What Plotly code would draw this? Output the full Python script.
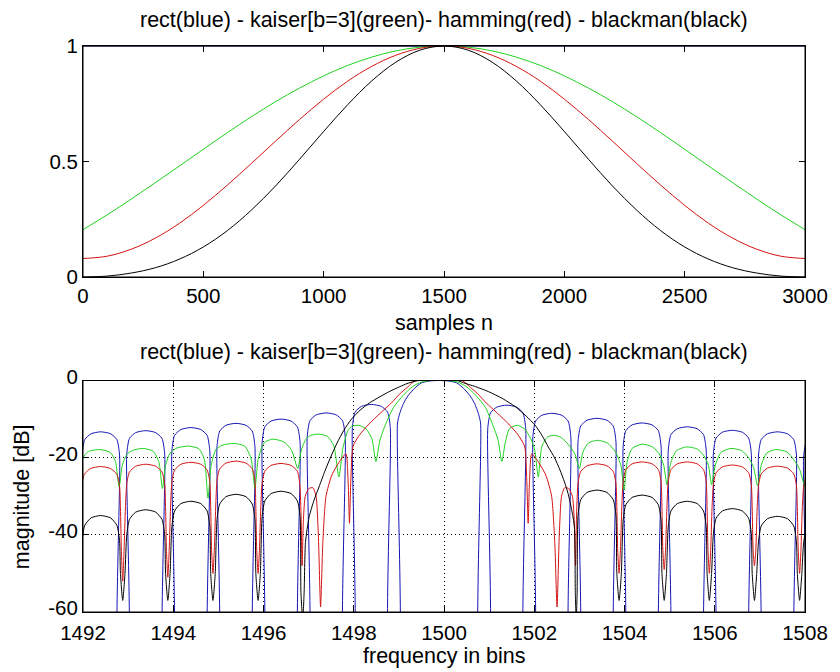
import plotly.graph_objects as go

FONT = "Liberation Sans, Arial, Helvetica, sans-serif"
TITLE = "rect(blue) - kaiser[b=3](green)- hamming(red) - blackman(black)"

# ---------------- top panel: window shapes ----------------
samples_n = [0, 100, 200, 300, 400, 500, 600, 700, 800, 900, 1000, 1100, 1200, 1300, 1400, 1500,
             1600, 1700, 1800, 1900, 2000, 2100, 2200, 2300, 2400, 2500, 2600, 2700, 2800, 2900, 3000]
rect_n = [0, 3000]
rect_w = [1.0, 1.0]
kaiser_w = [0.205, 0.269, 0.337, 0.408, 0.480, 0.553, 0.625, 0.694, 0.759, 0.818, 0.871, 0.916, 0.952, 0.979, 0.995, 1.0,
            0.995, 0.979, 0.952, 0.916, 0.871, 0.818, 0.759, 0.694, 0.625, 0.553, 0.480, 0.408, 0.337, 0.269, 0.205]
hamming_w = [0.080, 0.090, 0.120, 0.168, 0.232, 0.310, 0.398, 0.492, 0.588, 0.682, 0.770, 0.848, 0.912, 0.960, 0.990, 1.0,
             0.990, 0.960, 0.912, 0.848, 0.770, 0.682, 0.588, 0.492, 0.398, 0.310, 0.232, 0.168, 0.120, 0.090, 0.080]
blackman_w = [0.000, 0.004, 0.017, 0.040, 0.077, 0.130, 0.201, 0.290, 0.394, 0.510, 0.630, 0.746, 0.849, 0.930, 0.982, 1.0,
              0.982, 0.930, 0.849, 0.746, 0.630, 0.510, 0.394, 0.290, 0.201, 0.130, 0.077, 0.040, 0.017, 0.004, 0.000]

# ---------------- bottom panel: spectra in dB (bin, dB) ----------------
rect_db = [
    (1491.98, -80), (1491.98, -19.3), (1492.04, -15.3), (1492.18, -13.8), (1492.39, -13.3), (1492.61, -13.8), (1492.75, -15.3), (1492.81, -19.3), (1492.81, -80),
    (1492.97, -80), (1492.97, -19.0), (1493.03, -15.0), (1493.17, -13.5), (1493.39, -13.0), (1493.61, -13.5), (1493.75, -15.0), (1493.81, -19.0), (1493.81, -80),
    (1493.97, -80), (1493.97, -18.2), (1494.03, -14.2), (1494.17, -12.7), (1494.39, -12.2), (1494.61, -12.7), (1494.75, -14.2), (1494.81, -18.2), (1494.81, -80),
    (1494.97, -80), (1494.97, -17.1), (1495.03, -13.1), (1495.17, -11.6), (1495.39, -11.1), (1495.61, -11.6), (1495.75, -13.1), (1495.81, -17.1), (1495.81, -80),
    (1495.97, -80), (1495.97, -16.0), (1496.03, -12.0), (1496.17, -10.5), (1496.39, -10.0), (1496.61, -10.5), (1496.75, -12.0), (1496.81, -16.0), (1496.81, -80),
    (1496.97, -80), (1496.97, -14.4), (1497.03, -10.4), (1497.17, -8.9), (1497.39, -8.4), (1497.61, -8.9), (1497.75, -10.4), (1497.81, -14.4), (1497.81, -80),
    (1497.97, -80), (1497.97, -12.2), (1498.03, -8.2), (1498.17, -6.7), (1498.39, -6.2), (1498.61, -6.7), (1498.75, -8.2), (1498.81, -12.2), (1498.81, -80),
    (1498.97, -80), (1498.97, -11.0), (1499.02, -8.5), (1499.10, -6.0), (1499.20, -4.0), (1499.35, -2.0), (1499.50, -0.6), (1499.70, -0.1), (1499.89, 0.0),
    (1500.08, -0.1), (1500.28, -0.6), (1500.43, -2.0), (1500.58, -4.0), (1500.68, -6.0), (1500.76, -8.5), (1500.81, -11.0), (1500.81, -80),
    (1500.97, -80), (1500.97, -12.4), (1501.03, -8.4), (1501.17, -6.9), (1501.39, -6.4), (1501.61, -6.9), (1501.75, -8.4), (1501.81, -12.4), (1501.81, -80),
    (1501.97, -80), (1501.97, -14.5), (1502.03, -10.5), (1502.17, -9.0), (1502.39, -8.5), (1502.61, -9.0), (1502.75, -10.5), (1502.81, -14.5), (1502.81, -80),
    (1502.97, -80), (1502.97, -15.8), (1503.03, -11.8), (1503.17, -10.3), (1503.39, -9.8), (1503.61, -10.3), (1503.75, -11.8), (1503.81, -15.8), (1503.81, -80),
    (1503.97, -80), (1503.97, -17.0), (1504.03, -13.0), (1504.17, -11.5), (1504.39, -11.0), (1504.61, -11.5), (1504.75, -13.0), (1504.81, -17.0), (1504.81, -80),
    (1504.97, -80), (1504.97, -18.0), (1505.03, -14.0), (1505.17, -12.5), (1505.39, -12.0), (1505.61, -12.5), (1505.75, -14.0), (1505.81, -18.0), (1505.81, -80),
    (1505.97, -80), (1505.97, -18.9), (1506.03, -14.9), (1506.17, -13.4), (1506.39, -12.9), (1506.61, -13.4), (1506.75, -14.9), (1506.81, -18.9), (1506.81, -80),
    (1506.97, -80), (1506.97, -19.3), (1507.03, -15.3), (1507.17, -13.8), (1507.39, -13.3), (1507.61, -13.8), (1507.75, -15.3), (1507.81, -19.3), (1507.81, -80),
    (1507.97, -80), (1507.97, -19.5), (1508.03, -15.5),
]

kaiser_db = [
    (1491.85, -26), (1492.00, -20), (1492.12, -18.4), (1492.37, -17.9), (1492.60, -18.6), (1492.72, -21), (1492.80, -27.6),
    (1492.87, -22), (1492.97, -19.2), (1493.10, -18.1), (1493.32, -17.6), (1493.55, -18.3), (1493.68, -21), (1493.76, -28),
    (1493.83, -22), (1493.93, -18.8), (1494.08, -17.5), (1494.34, -17.0), (1494.57, -17.7), (1494.69, -20.5), (1494.77, -30.5),
    (1494.84, -22), (1494.94, -18), (1495.08, -16.8), (1495.35, -16.3), (1495.58, -17.0), (1495.72, -20), (1495.81, -28),
    (1495.88, -20.5), (1495.98, -16.8), (1496.05, -15.8), (1496.21, -15.2), (1496.45, -15.9), (1496.62, -18), (1496.76, -22.8),
    (1496.84, -18), (1496.95, -15), (1497.05, -14.2), (1497.23, -13.9), (1497.42, -14.5), (1497.56, -17), (1497.67, -25),
    (1497.76, -17.5), (1497.87, -13), (1497.95, -11.9), (1498.11, -11.6), (1498.27, -12.5), (1498.40, -15), (1498.49, -21),
    (1498.58, -15.5), (1498.70, -11.5), (1498.88, -7), (1499.10, -3.8), (1499.30, -1.6), (1499.50, -0.4), (1499.70, 0),
    (1500.10, 0), (1500.30, -0.4), (1500.50, -1.6), (1500.70, -3.8), (1500.92, -7), (1501.08, -11.5), (1501.20, -15.5), (1501.28, -21),
    (1501.36, -16), (1501.45, -12.5), (1501.62, -11.6), (1501.78, -12.5), (1501.92, -15), (1502.01, -18), (1502.09, -25),
    (1502.17, -17), (1502.30, -14.6), (1502.45, -14.2), (1502.60, -14.8), (1502.75, -16.5), (1502.90, -19), (1503.00, -22.8),
    (1503.08, -18.5), (1503.20, -16.2), (1503.40, -15.5), (1503.62, -16.2), (1503.80, -18.5), (1503.92, -22), (1503.99, -28.4),
    (1504.06, -21), (1504.17, -17.6), (1504.39, -16.5), (1504.62, -17.2), (1504.77, -19), (1504.87, -22), (1504.94, -27),
    (1505.02, -21.5), (1505.15, -18.2), (1505.38, -17.2), (1505.62, -17.8), (1505.76, -19.5), (1505.86, -22), (1505.93, -27),
    (1506.01, -22), (1506.14, -18.6), (1506.36, -17.6), (1506.60, -18.2), (1506.75, -20), (1506.86, -22.5), (1506.95, -27.3),
    (1507.03, -22), (1507.15, -18.8), (1507.35, -17.9), (1507.60, -18.5), (1507.75, -20.5), (1507.88, -23), (1508.00, -27.6), (1508.05, -22),
]

hamming_db = [
    (1491.97, -27.3), (1492.03, -24.3), (1492.17, -22.8), (1492.39, -22.3), (1492.61, -22.8), (1492.75, -24.3), (1492.81, -27.3),
    (1492.83, -33), (1492.85, -44), (1492.88, -52), (1492.91, -44), (1492.94, -33),
    (1492.97, -26.7), (1493.03, -23.7), (1493.17, -22.2), (1493.39, -21.7), (1493.61, -22.2), (1493.75, -23.7), (1493.81, -26.7),
    (1493.83, -33), (1493.85, -44), (1493.88, -51), (1493.91, -44), (1493.94, -33),
    (1493.97, -26.2), (1494.03, -23.2), (1494.17, -21.7), (1494.39, -21.2), (1494.61, -21.7), (1494.75, -23.2), (1494.81, -26.2),
    (1494.83, -33), (1494.85, -44), (1494.88, -50), (1494.91, -44), (1494.94, -33),
    (1494.97, -25.9), (1495.03, -22.9), (1495.17, -21.4), (1495.39, -20.9), (1495.61, -21.4), (1495.75, -22.9), (1495.81, -25.9),
    (1495.83, -33), (1495.85, -44), (1495.88, -50), (1495.91, -44), (1495.94, -33),
    (1495.97, -26.5), (1496.03, -23.5), (1496.17, -22.0), (1496.39, -21.5), (1496.61, -22.0), (1496.75, -23.5), (1496.805, -27),
    (1496.835, -36), (1496.855, -48), (1496.885, -36), (1496.925, -30), (1497.005, -28), (1497.095, -27.8), (1497.165, -30),
    (1497.215, -40), (1497.265, -58.7), (1497.315, -42), (1497.385, -30), (1497.515, -24.5), (1497.685, -21), (1497.825, -19),
    (1497.875, -26), (1497.905, -37), (1497.935, -26), (1497.985, -17), (1498.135, -14), (1498.335, -11.3), (1498.585, -8.5),
    (1498.835, -5.8), (1499.035, -3.3), (1499.185, -1.8), (1499.285, -0.7), (1499.385, 0),
    (1500.385, 0), (1500.485, -0.7), (1500.585, -1.8), (1500.735, -3.3), (1500.935, -5.8), (1501.185, -8.5), (1501.435, -11.3),
    (1501.635, -14), (1501.785, -17), (1501.835, -26), (1501.865, -37), (1501.895, -26), (1501.945, -19), (1502.085, -21),
    (1502.255, -24.5), (1502.385, -30), (1502.455, -42), (1502.505, -58.7), (1502.555, -40), (1502.605, -30), (1502.675, -27.8),
    (1502.765, -28), (1502.845, -30), (1502.885, -36), (1502.915, -48), (1502.935, -36),
    (1502.97, -26.6), (1503.03, -23.6), (1503.17, -22.1), (1503.39, -21.6), (1503.61, -22.1), (1503.75, -23.6), (1503.81, -26.6),
    (1503.83, -33), (1503.85, -44), (1503.88, -50), (1503.91, -44), (1503.94, -33),
    (1503.97, -26.1), (1504.03, -23.1), (1504.17, -21.6), (1504.39, -21.1), (1504.61, -21.6), (1504.75, -23.1), (1504.81, -26.1),
    (1504.83, -33), (1504.85, -44), (1504.88, -49), (1504.91, -44), (1504.94, -33),
    (1504.97, -26.1), (1505.03, -23.1), (1505.17, -21.6), (1505.39, -21.1), (1505.61, -21.6), (1505.75, -23.1), (1505.81, -26.1),
    (1505.83, -33), (1505.85, -44), (1505.88, -50), (1505.91, -44), (1505.94, -33),
    (1505.97, -26.9), (1506.03, -23.9), (1506.17, -22.4), (1506.39, -21.9), (1506.61, -22.4), (1506.75, -23.9), (1506.81, -26.9),
    (1506.83, -33), (1506.85, -44), (1506.88, -48), (1506.91, -44), (1506.94, -33),
    (1506.97, -27.2), (1507.03, -24.2), (1507.17, -22.7), (1507.39, -22.2), (1507.61, -22.7), (1507.75, -24.2), (1507.81, -27.2),
    (1507.83, -33), (1507.85, -44), (1507.88, -50), (1507.91, -44), (1507.94, -33), (1507.97, -27.5), (1508.03, -24.5),
]

blackman_db = [
    (1491.98, -41.5), (1492.04, -37.5), (1492.18, -35.6), (1492.39, -35.0), (1492.61, -35.6), (1492.75, -37.5), (1492.81, -41.5),
    (1492.83, -50), (1492.88, -57), (1492.93, -50),
    (1492.97, -40.0), (1493.03, -36.0), (1493.17, -34.1), (1493.39, -33.5), (1493.61, -34.1), (1493.75, -36.0), (1493.81, -40.0),
    (1493.83, -50), (1493.88, -57), (1493.93, -50),
    (1493.97, -37.8), (1494.03, -33.8), (1494.17, -31.9), (1494.39, -31.3), (1494.61, -31.9), (1494.75, -33.8), (1494.81, -37.8),
    (1494.83, -50), (1494.88, -57), (1494.93, -50),
    (1494.97, -36.0), (1495.03, -32.0), (1495.17, -30.1), (1495.39, -29.5), (1495.61, -30.1), (1495.75, -32.0), (1495.81, -36.0),
    (1495.83, -50), (1495.88, -57), (1495.93, -50),
    (1495.97, -35.2), (1496.03, -31.2), (1496.17, -29.3), (1496.39, -28.7), (1496.61, -29.3), (1496.75, -31.2), (1496.81, -35.2),
    (1496.83, -55), (1496.87, -62), (1496.90, -55),
    (1496.93, -42), (1497.01, -35.4), (1497.12, -31), (1497.23, -27.6), (1497.36, -23.5), (1497.49, -19.8), (1497.63, -16.2),
    (1497.78, -12.9), (1497.95, -10), (1498.14, -7.7), (1498.35, -5.8), (1498.58, -4.2), (1498.80, -2.8), (1499.02, -1.6),
    (1499.18, -0.8), (1499.35, -0.2), (1499.45, 0), (1500.30, 0), (1500.41, -0.5), (1500.70, -1.6), (1500.99, -2.9),
    (1501.30, -4.7), (1501.58, -6.8), (1501.82, -9.2), (1502.02, -11.6), (1502.17, -14.2), (1502.31, -17.2), (1502.45, -20),
    (1502.57, -23.2), (1502.67, -26.3), (1502.75, -29.3), (1502.83, -33.5), (1502.89, -38),
    (1502.91, -55), (1502.93, -62), (1502.95, -55),
    (1502.97, -34.9), (1503.03, -30.9), (1503.17, -29.0), (1503.39, -28.4), (1503.61, -29.0), (1503.75, -30.9), (1503.81, -34.9),
    (1503.83, -50), (1503.88, -57), (1503.93, -50),
    (1503.97, -36.2), (1504.03, -32.2), (1504.17, -30.3), (1504.39, -29.7), (1504.61, -30.3), (1504.75, -32.2), (1504.81, -36.2),
    (1504.83, -50), (1504.88, -57), (1504.93, -50),
    (1504.97, -37.8), (1505.03, -33.8), (1505.17, -31.9), (1505.39, -31.3), (1505.61, -31.9), (1505.75, -33.8), (1505.81, -37.8),
    (1505.83, -50), (1505.88, -57), (1505.93, -50),
    (1505.97, -39.7), (1506.03, -35.7), (1506.17, -33.8), (1506.39, -33.2), (1506.61, -33.8), (1506.75, -35.7), (1506.81, -39.7),
    (1506.83, -50), (1506.88, -57), (1506.93, -50),
    (1506.97, -41.7), (1507.03, -37.7), (1507.17, -35.8), (1507.39, -35.2), (1507.61, -35.8), (1507.75, -37.7), (1507.81, -41.7),
    (1507.83, -50), (1507.88, -57), (1507.93, -50), (1507.97, -42), (1508.03, -38),
]

top_xticks = [0, 500, 1000, 1500, 2000, 2500, 3000]
top_yticks = [0, 0.5, 1]
top_yticktext = ["0", "0.5", "1"]
bot_xticks = [1492, 1494, 1496, 1498, 1500, 1502, 1504, 1506, 1508]
bot_yticks = [-60, -40, -20, 0]
bot_yticktext = ["-60", "-40", "-20", "0"]

COL_BLUE = "#1515b5"
COL_GREEN = "#1fd21f"
COL_RED = "#d41414"
COL_BLACK = "#000000"

fig = go.Figure()

# top panel
for xs, ys, col in [(rect_n, rect_w, COL_BLUE), (samples_n, kaiser_w, COL_GREEN),
                    (samples_n, hamming_w, COL_RED), (samples_n, blackman_w, COL_BLACK)]:
    fig.add_trace(go.Scatter(x=xs, y=ys, mode="lines", line=dict(color=col, width=1, shape="spline"),
                             xaxis="x", yaxis="y", showlegend=False, hoverinfo="skip"))

# bottom panel
for pts, col in [(rect_db, COL_BLUE), (kaiser_db, COL_GREEN), (hamming_db, COL_RED), (blackman_db, COL_BLACK)]:
    fig.add_trace(go.Scatter(x=[p[0] for p in pts], y=[p[1] for p in pts], mode="lines",
                             line=dict(color=col, width=1, shape="spline", smoothing=0.6),
                             xaxis="x2", yaxis="y2", showlegend=False, hoverinfo="skip"))

tickfont = dict(family=FONT, size=20.5, color="black")
common = dict(showline=True, linecolor="black", linewidth=1, mirror="ticks", ticks="inside",
              ticklen=6, tickwidth=1, tickcolor="black", tickfont=tickfont, zeroline=False)

H_T, H_B = 46, 60
plot_h = 672 - H_T - H_B
top_dom = [(672 - H_B - 277) / plot_h, 1.0]
bot_dom = [0.0, (672 - H_B - 380.5) / plot_h]

fig.update_layout(
    width=840, height=672, autosize=False,
    margin=dict(l=83, r=27, t=H_T, b=H_B, pad=0),
    paper_bgcolor="white", plot_bgcolor="white",
    font=dict(family=FONT, size=21, color="black"),
    xaxis=dict(domain=[0, 1], anchor="y", range=[0, 3000], tickvals=top_xticks, showgrid=False, **common),
    yaxis=dict(domain=top_dom, anchor="x", range=[0, 1], tickvals=top_yticks, ticktext=top_yticktext,
               showgrid=False, **common),
    xaxis2=dict(domain=[0, 1], anchor="y2", range=[1492, 1508], tickvals=bot_xticks, showgrid=True,
                gridcolor="black", gridwidth=1, griddash="1px,3px", ticklabelstandoff=2, **common),
    yaxis2=dict(domain=bot_dom, anchor="x2", range=[-60, 0], tickvals=bot_yticks, ticktext=bot_yticktext,
                showgrid=True, gridcolor="black", gridwidth=1, griddash="1px,3px", ticklabelshift=-4, **common),
)

# black box drawn above the curves (as MATLAB does)
for xr, yr in [("x domain", "y domain"), ("x2 domain", "y2 domain")]:
    fig.add_shape(type="rect", xref=xr, yref=yr, x0=0, x1=1, y0=0, y1=1,
                  line=dict(color="black", width=1), fillcolor="rgba(0,0,0,0)", layer="above")

def px_to_paper_y(py):
    return (672 - H_B - py) / plot_h

def px_to_paper_x(px):
    return (px - 83) / 730

ann_font = dict(family=FONT, size=21.5, color="black")
annotations = [
    dict(text=TITLE, x=0.5, y=px_to_paper_y(20), xanchor="center", yanchor="middle"),
    dict(text="samples n", x=0.5, y=px_to_paper_y(323), xanchor="center", yanchor="middle"),
    dict(text=TITLE, x=0.5, y=px_to_paper_y(351.5), xanchor="center", yanchor="middle"),
    dict(text="frequency in bins", x=0.5, y=px_to_paper_y(656), xanchor="center", yanchor="middle"),
    dict(text="magnitude [dB]", x=px_to_paper_x(21), y=px_to_paper_y(496.5), xanchor="center",
         yanchor="middle", textangle=-90),
]
for a in annotations:
    fig.add_annotation(xref="paper", yref="paper", showarrow=False, font=ann_font, **a)

fig.write_html("out.html")
